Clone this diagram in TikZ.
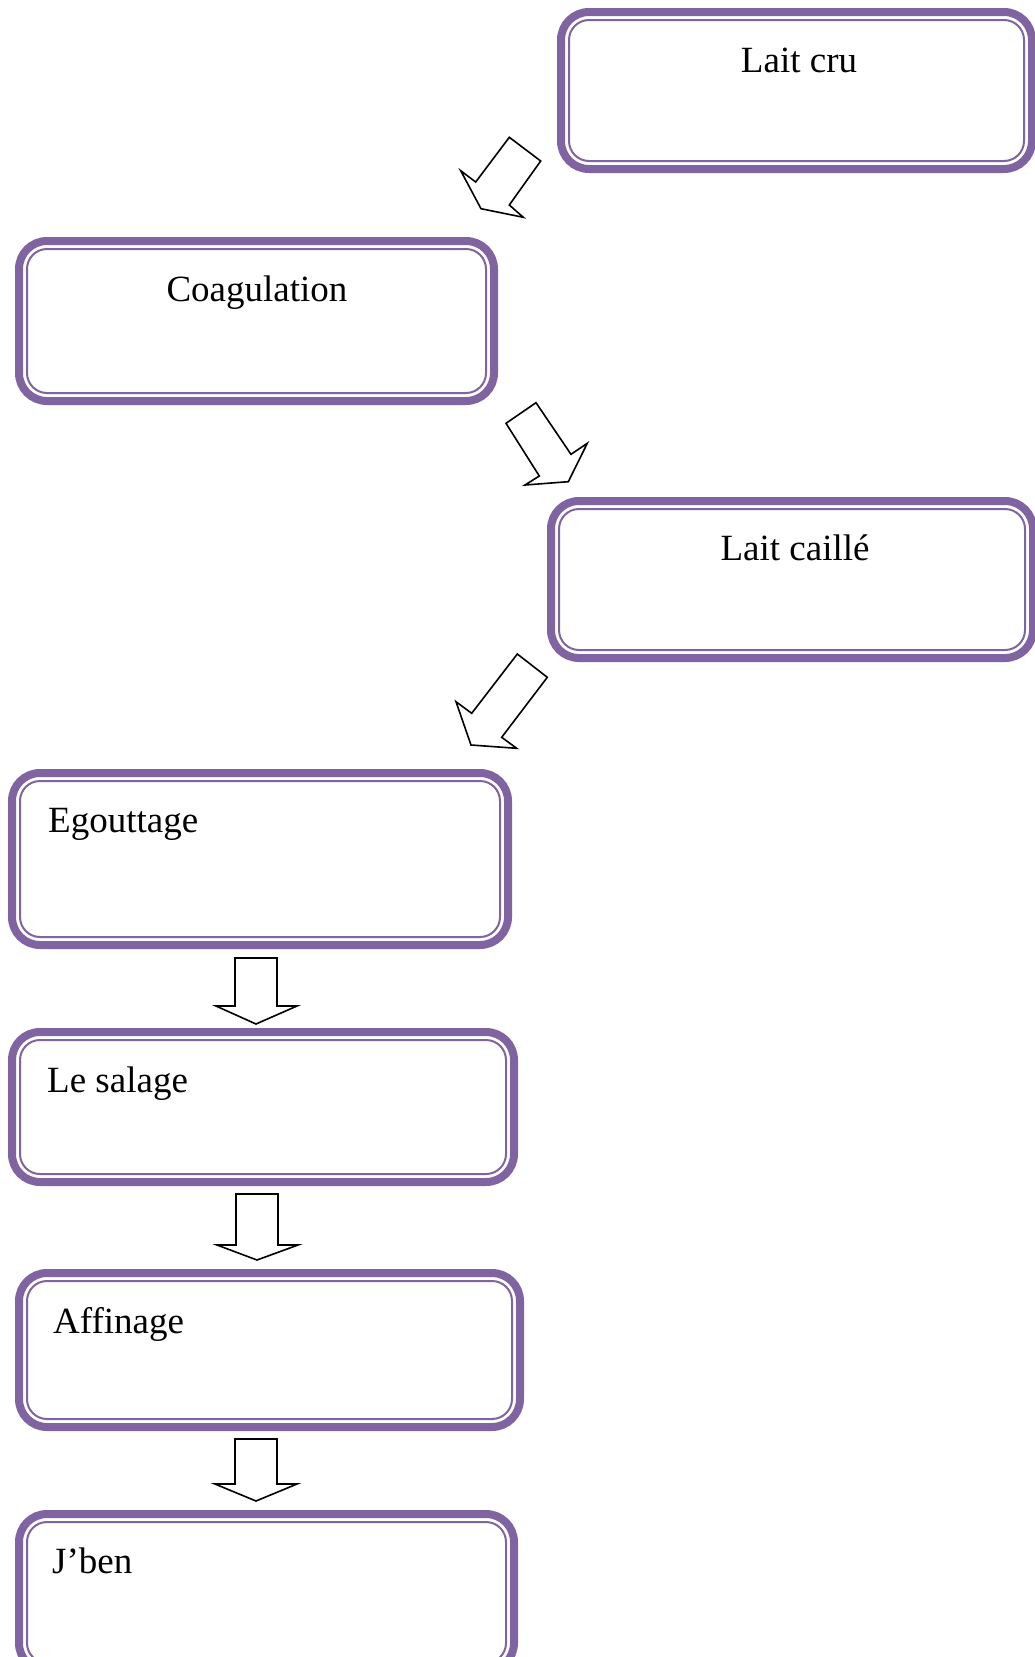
\documentclass[tikz,border=0pt]{standalone}
\usepackage{fontspec}
\setmainfont{Liberation Serif}
\usetikzlibrary{fit}
\definecolor{boxpurple}{HTML}{8064A2}
\begin{document}
\begin{tikzpicture}[x=1pt,y=-1pt,
  stepbox/.style={draw=boxpurple, line width=8pt, rounded corners=28pt, inner sep=0pt, outer sep=0pt, fill=white},
  innerline/.style={draw=boxpurple, line width=2pt, rounded corners=20pt},
  lbl/.style={inner sep=0pt, font=\fontsize{37}{44}\selectfont},
  blockarrow/.style={draw=black, line width=1.6pt, fill=white, line join=miter}]
\useasboundingbox (0,0) rectangle (1035,1657);
\clip (0,0) rectangle (1035,1657);
\fill[white] (0,0) rectangle (1035,1657);

% boxes
\node[stepbox, fit={(561,12) (1032,169)}] (b1) {};
\node[stepbox, fit={(19,241) (494,401)}] (b2) {};
\node[stepbox, fit={(551,501) (1033,658)}] (b3) {};
\node[stepbox, fit={(12,773) (508,945)}] (b4) {};
\node[stepbox, fit={(12,1032) (514,1182)}] (b5) {};
\node[stepbox, fit={(19,1273) (520,1427)}] (b6) {};
\node[stepbox, fit={(19,1514) (514,1671)}] (b7) {};
\foreach \b in {b1,b2,b3,b4,b5,b6,b7}
  \draw[innerline] ([shift={(8,8)}]\b.north west) rectangle ([shift={(-8,-8)}]\b.south east);

% labels
\node[lbl, anchor=base] (t1) at (799,72) {Lait cru};
\node[lbl, anchor=base] (t2) at (257,301) {Coagulation};
\node[lbl, anchor=base] (t3) at (795,560) {Lait caillé};
\node[lbl, anchor=base west] (t4) at (48,832) {Egouttage};
\node[lbl, anchor=base west] (t5) at (47,1092) {Le salage};
\node[lbl, anchor=base west] (t6) at (53,1333) {Affinage};
\node[lbl, anchor=base west] (t7) at (52,1573) {J’ben};

% block arrows
\draw[blockarrow] (509.3,137.3) -- (540.7,161) -- (509.3,205) -- (523.3,217.3) -- (481,208.7) -- (460.7,170.7) -- (475.7,182) -- cycle;
\draw[blockarrow] (536,402.7) -- (506,423.3) -- (539.3,476) -- (525,485) -- (568.3,481.7) -- (587.3,443.3) -- (571,454.3) -- cycle;
\draw[blockarrow] (517.3,654) -- (547.3,677.3) -- (501.7,737.3) -- (516.7,748.3) -- (471,745) -- (456,701.7) -- (471.7,713.3) -- cycle;
\draw[blockarrow] (235,958) -- (277,958) -- (277,1006) -- (297,1006) -- (256,1024) -- (216,1006) -- (235,1006) -- cycle;
\draw[blockarrow] (236,1194) -- (278,1194) -- (278,1245) -- (298,1245) -- (257,1260) -- (217,1245) -- (236,1245) -- cycle;
\draw[blockarrow] (235,1439) -- (277,1439) -- (277,1484) -- (297,1484) -- (256,1501) -- (215,1484) -- (235,1484) -- cycle;
\end{tikzpicture}
\end{document}
